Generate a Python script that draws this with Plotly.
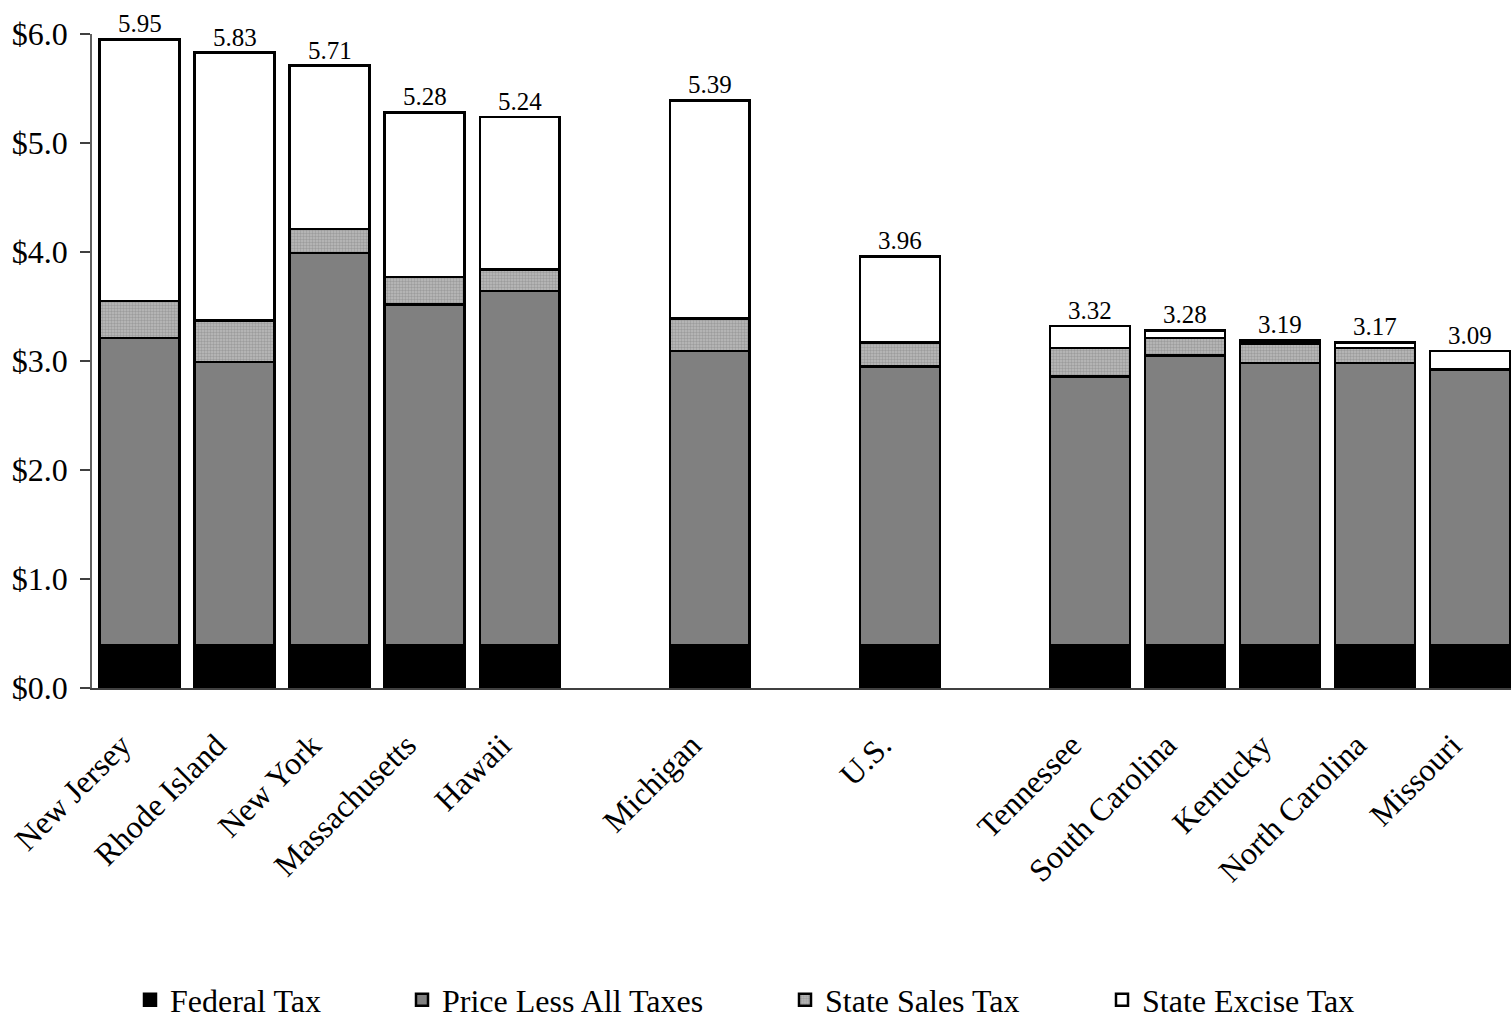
import plotly.graph_objects as go

# Cigarette price per pack, by state, split into its components.
# Empty strings are spacer slots that separate the state groups.
categories = ["New Jersey", "Rhode Island", "New York", "Massachusetts", "Hawaii", "",
              "Michigan", "", "U.S.", "",
              "Tennessee", "South Carolina", "Kentucky", "North Carolina", "Missouri"]
totals = [5.95, 5.83, 5.71, 5.28, 5.24, None, 5.39, None, 3.96, None,
          3.32, 3.28, 3.19, 3.17, 3.09]
federal_tax = [0.39, 0.39, 0.39, 0.39, 0.39, None, 0.39, None, 0.39, None,
               0.39, 0.39, 0.39, 0.39, 0.39]
price_less_taxes = [2.82, 2.60, 3.60, 3.13, 3.25, None, 2.70, None, 2.56, None,
                    2.47, 2.66, 2.59, 2.59, 2.53]
state_sales_tax = [0.34, 0.38, 0.22, 0.25, 0.20, None, 0.30, None, 0.22, None,
                   0.26, 0.16, 0.18, 0.14, 0.00]
# Excise tax is whatever remains of the total price.
state_excise_tax = [None if t is None else round(t - f - p - s, 2)
                    for t, f, p, s in zip(totals, federal_tax, price_less_taxes, state_sales_tax)]

y_ticks = [0, 1, 2, 3, 4, 5, 6]
y_tick_labels = ["$0.0", "$1.0", "$2.0", "$3.0", "$4.0", "$5.0", "$6.0"]

slots = list(range(len(categories)))
FONT = "Liberation Serif, Times New Roman, serif"
outline = dict(color="black", width=2.5)

fig = go.Figure()
fig.add_bar(x=slots, y=federal_tax, name="Federal Tax", legend="legend",
            marker=dict(color="black", line=outline))
fig.add_bar(x=slots, y=price_less_taxes, name="Price Less All Taxes", legend="legend2",
            marker=dict(color="#808080", line=outline))
fig.add_bar(x=slots, y=state_sales_tax, name="State Sales Tax", legend="legend3",
            marker=dict(color="#a8a8a8", line=outline,
                        pattern=dict(shape=".", fgcolor="#7c7c7c", bgcolor="#bcbcbc",
                                     size=3, solidity=0.5)))
fig.add_bar(x=slots, y=state_excise_tax, name="State Excise Tax", legend="legend4",
            marker=dict(color="white", line=outline))

# Total price printed above each bar
for x, t in zip(slots, totals):
    if t is None:
        continue
    fig.add_annotation(x=x, y=t, text=f"{t:.2f}", showarrow=False, yanchor="bottom",
                       font=dict(family=FONT, size=25, color="black"))

legend_style = dict(orientation="h", yref="container", yanchor="middle", y=18 / 1018,
                    xanchor="left",
                    font=dict(family=FONT, size=32, color="black"),
                    bgcolor="rgba(0,0,0,0)", itemclick=False)

fig.update_layout(
    width=1511, height=1018,
    margin=dict(l=92, r=0, t=34, b=330),
    barmode="stack", bargap=0.16,
    showlegend=True,
    plot_bgcolor="white", paper_bgcolor="white",
    font=dict(family=FONT, size=32, color="black"),
    legend=dict(legend_style, x=(130 - 92) / 1419),
    legend2=dict(legend_style, x=(402 - 92) / 1419),
    legend3=dict(legend_style, x=(785 - 92) / 1419),
    legend4=dict(legend_style, x=(1102 - 92) / 1419),
    xaxis=dict(tickmode="array", tickvals=slots, ticktext=categories, tickangle=-45,
               range=[-0.5, 14.43], showline=True, linecolor="#404040", linewidth=1.5,
               showgrid=False, zeroline=False, ticks="", automargin=False,
               ticklabelstandoff=24, ticklabelshift=-18,
               tickfont=dict(family=FONT, size=32, color="black")),
    yaxis=dict(tickmode="array", tickvals=y_ticks, ticktext=y_tick_labels,
               range=[0, 6], showline=True, linecolor="#606060", linewidth=1.5,
               showgrid=False, zeroline=False, ticks="outside", ticklen=10,
               tickcolor="#404040", tickwidth=1.5, ticklabelstandoff=6, automargin=False,
               tickfont=dict(family=FONT, size=32, color="black")),
)

fig.write_html("out.html")
